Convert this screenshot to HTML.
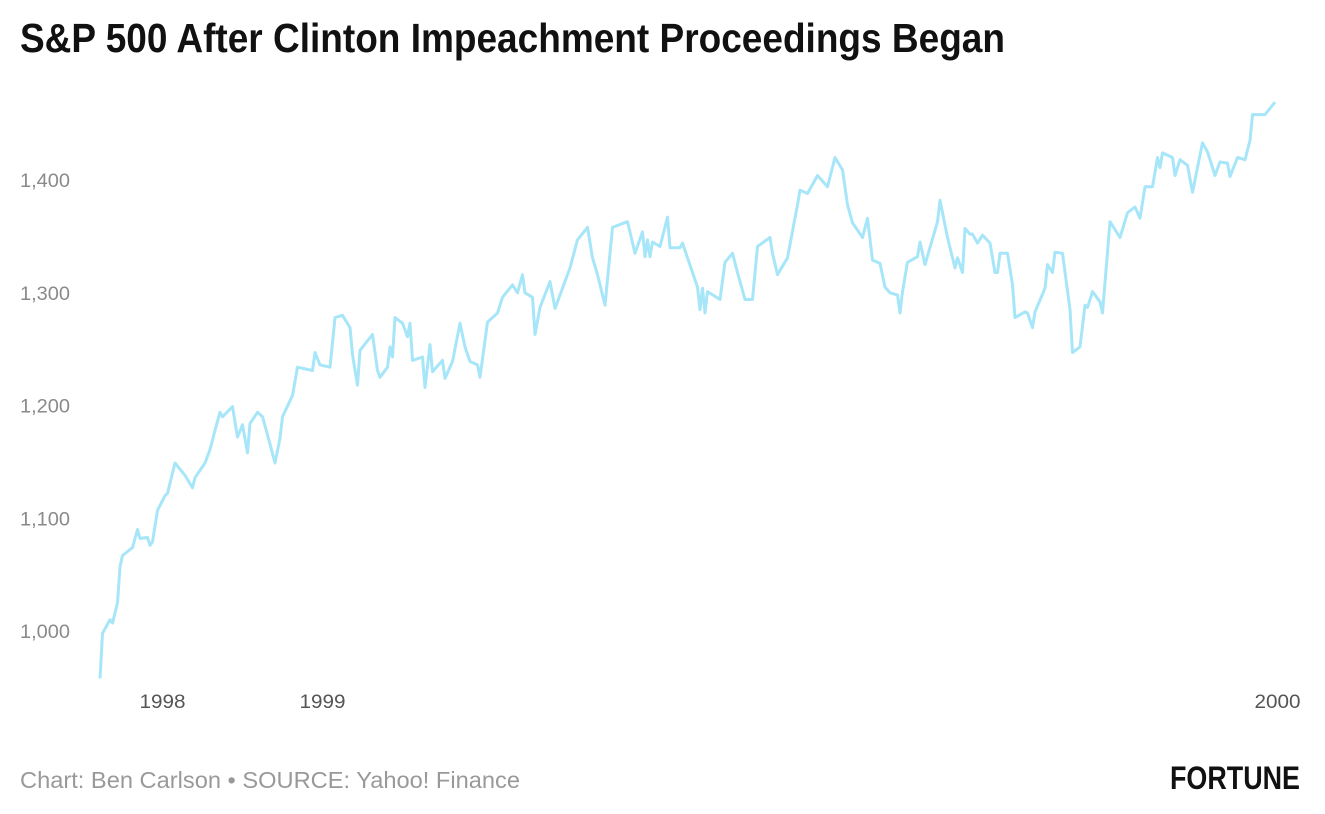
<!DOCTYPE html>
<html><head><meta charset="utf-8"><style>
body{margin:0;background:#fff;width:1325px;height:809px;overflow:hidden;font-family:"Liberation Sans",sans-serif}
</style></head><body>
<svg width="1325" height="809">
<text x="20" y="52" font-weight="bold" font-size="41" fill="#111" textLength="985" lengthAdjust="spacingAndGlyphs">S&amp;P 500 After Clinton Impeachment Proceedings Began</text>
<g id="yaxis"></g>
<g id="xaxis"></g>
<path id="line" fill="none" stroke="#a6e6f8" stroke-width="3" stroke-linejoin="round"/>
<text x="20" y="788" font-size="23" fill="#999" textLength="500" lengthAdjust="spacingAndGlyphs">Chart: Ben Carlson • SOURCE: Yahoo! Finance</text>
<text x="1170" y="789" font-size="32" font-weight="bold" fill="#111" textLength="130" lengthAdjust="spacingAndGlyphs">FORTUNE</text>
</svg>
<script>
const days=[0,1,4,5,7,8,9,13,15,16,19,20,21,23,26,27,30,34,37,38,42,44,46,48,49,53,55,57,59,60,63,65,67,70,72,73,77,79,85,86,88,92,94,97,100,101,103,104,109,111,
112,115,116,117,118,121,123,124,125,129,130,132,133,137,138,141,144,146,148,151,152,155,159,161,165,167,169,170,173,174,176,180,182,188,191,195,197,199,202,205,211,214,217,218,219,220,221,224,227,228,231,
232,233,239,240,241,242,243,248,250,253,255,258,261,263,268,269,271,275,279,280,283,285,287,291,294,297,299,301,305,307,309,312,314,316,319,320,321,323,327,328,330,335,336,339,342,343,345,346,348,
349,351,353,356,358,359,360,363,365,366,370,371,373,374,378,379,381,382,385,388,389,392,394,395,397,400,401,404,408,411,414,416,418,421,423,424,425,429,430,432,435,437,441,443,446,448,451,452,455,458,460,461,466,470];
const closes=[958,998,1010,1007,1025,1057,1067,1074,1090,1082,1083,1076,1079,1107,1120,1122,1149,1138,1127,1136,1149,1161,1178,1194,1190,1199,1172,1183,1158,1184,1194,1190,1174,1149,1171,1190,1209,1234,1231,1247,1236,1234,1278,1280,1269,1245,1218,1249,1263,1231,
1225,1234,1252,1243,1278,1273,1261,1273,1240,1243,1216,1254,1230,1240,1224,1239,1273,1252,1239,1236,1225,1274,1282,1296,1307,1300,1316,1300,1296,1263,1287,1310,1286,1322,1347,1358,1331,1316,1289,1358,1363,1335,1354,1332,1347,1332,1345,1341,1367,1340,1340,
1340,1344,1305,1285,1304,1282,1301,1294,1327,1335,1318,1294,1294,1341,1349,1335,1316,1331,1378,1391,1388,1396,1404,1394,1420,1409,1378,1362,1349,1366,1329,1326,1305,1300,1298,1282,1301,1327,1332,1345,1325,1363,1382,1349,1322,1331,1318,1357,1352,
1352,1344,1351,1344,1318,1318,1335,1335,1307,1278,1283,1282,1269,1283,1304,1325,1318,1336,1335,1285,1247,1252,1289,1287,1301,1292,1282,1363,1349,1371,1376,1366,1394,1394,1420,1411,1424,1420,1404,1418,1413,1389,1433,1425,1404,1416,1415,1403,1420,1418,1435,1458,1458,1469];
const yTicks=[1000,1100,1200,1300,1400];
const yTickLabels=["1,000","1,100","1,200","1,300","1,400"];
const xTickDays=[25,89,471];
const xTickLabels=["1998","1999","2000"];
const xs=d=>100+d*2.5;
const ys=v=>631-(v-1000)*1.1275;
const NS="http://www.w3.org/2000/svg";
const ya=document.getElementById('yaxis');
yTicks.forEach((t,i)=>{const e=document.createElementNS(NS,'text');
e.setAttribute('x',20);e.setAttribute('y',ys(t)+7);
e.setAttribute('font-size','19');e.setAttribute('fill','#8a8a8a');
e.setAttribute('textLength','50');e.setAttribute('lengthAdjust','spacingAndGlyphs');


e.textContent=yTickLabels[i];ya.appendChild(e);});
const xa=document.getElementById('xaxis');
xTickDays.forEach((d,i)=>{const e=document.createElementNS(NS,'text');
e.setAttribute('x',xs(d));e.setAttribute('y',708);e.setAttribute('text-anchor','middle');
e.setAttribute('font-size','19');e.setAttribute('fill','#555');
e.setAttribute('textLength','46');e.setAttribute('lengthAdjust','spacingAndGlyphs');


e.textContent=xTickLabels[i];xa.appendChild(e);});
document.getElementById('line').setAttribute('d',days.map((d,i)=>(i?'L':'M')+xs(d).toFixed(1)+','+ys(closes[i]).toFixed(1)).join(''));
</script>
</body></html>
